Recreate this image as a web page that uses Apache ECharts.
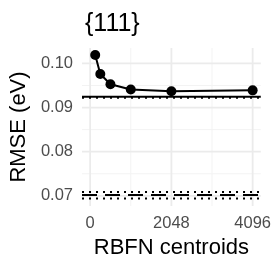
<!DOCTYPE html>
<html>
<head>
<meta charset="utf-8">
<script src="https://cdn.jsdelivr.net/npm/echarts@6/dist/echarts.min.js"></script>
<style>html,body{margin:0;padding:0;background:#fff}#c{width:274px;height:274px}</style>
</head>
<body>
<div id="c"></div>
<script>
// Data
var centroids = [128, 256, 512, 1024, 2048, 4096];
var rmse = [0.1019, 0.0976, 0.0953, 0.0941, 0.0937, 0.0939];
var solidRefs = [0.09245];
var dottedRefs = [0.0922, 0.0709, 0.0694];
var dashedRefs = [0.0702];
var xTicks = [0, 2048, 4096];
var xMinor = [1024, 3072];
var yTicks = [0.07, 0.08, 0.09, 0.10];
var yMinor = [0.075, 0.085, 0.095];

var XMIN = -204.8, XMAX = 4300.8, YMIN = 0.0677, YMAX = 0.1035;
var FONT = '"Liberation Sans", Arial, sans-serif';

function seg(points, color, width, type, z) {
  return {type: 'line', data: points, symbol: 'none', silent: true, z: z,
    lineStyle: {color: color, width: width, type: type}, animation: false};
}
var series = [];
xMinor.forEach(function(v){ series.push(seg([[v, YMIN],[v, YMAX]], '#F3F3F3', 1, 'solid', 1)); });
yMinor.forEach(function(v){ series.push(seg([[XMIN, v],[XMAX, v]], '#F3F3F3', 1, 'solid', 1)); });
xTicks.forEach(function(v){ series.push(seg([[v, YMIN],[v, YMAX]], '#EBEBEB', 1.8, 'solid', 1)); });
yTicks.forEach(function(v){ series.push(seg([[XMIN, v],[XMAX, v]], '#EBEBEB', 1.8, 'solid', 1)); });
solidRefs.forEach(function(v){ series.push(seg([[XMIN, v],[XMAX, v]], '#000', 2, 'solid', 3)); });
dottedRefs.forEach(function(v){ series.push(seg([[XMIN, v],[XMAX, v]], '#000', 2, [2, 5], 3)); });
dashedRefs.forEach(function(v){ series.push(seg([[XMIN, v],[XMAX, v]], '#000', 2, [15, 8], 3)); });
series.push({type:'line', z: 5, animation: false,
  data: centroids.map(function(c,i){ return [c, rmse[i]]; }),
  lineStyle: {color:'#000', width: 2},
  itemStyle: {color:'#000'},
  symbol: 'circle', symbolSize: 10, showSymbol: true});

var chart = echarts.init(document.getElementById('c'), null, {renderer:'canvas'});
chart.setOption({
  animation: false,
  backgroundColor: '#fff',
  title: {
    text: '{111}', left: 80, top: 7,
    textStyle: {fontFamily: FONT, fontSize: 25, fontWeight: 'normal', color: '#000'}
  },
  grid: {left: 82, right: 12, top: 48, bottom: 68, containLabel: false},
  xAxis: {
    type: 'value', min: XMIN, max: XMAX,
    name: 'RBFN centroids', nameLocation: 'middle', nameGap: 31,
    nameTextStyle: {fontFamily: FONT, fontSize: 22, color: '#000'},
    axisLine: {show:false}, axisTick: {show:false}, splitLine: {show:false},
    axisLabel: {customValues: xTicks, fontFamily: FONT, fontSize: 16.5, color: '#4D4D4D', margin: 9,
      formatter: function(v){ return String(v); }}
  },
  yAxis: {
    type: 'value', min: YMIN, max: YMAX,
    name: 'RMSE (eV)', nameLocation: 'middle', nameGap: 52, nameRotate: 90,
    nameTextStyle: {fontFamily: FONT, fontSize: 22, color: '#000'},
    axisLine: {show:false}, axisTick: {show:false}, splitLine: {show:false},
    axisLabel: {customValues: yTicks, fontFamily: FONT, fontSize: 16.5, color: '#4D4D4D', margin: 9,
      formatter: function(v){ return v.toFixed(2); }}
  },
  series: series
});
</script>
</body>
</html>
